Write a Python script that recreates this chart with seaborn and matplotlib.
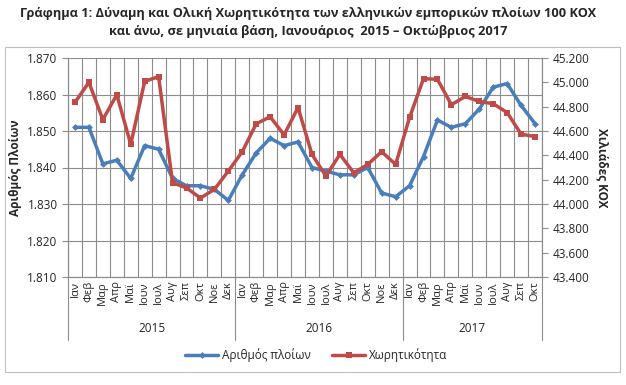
import matplotlib
matplotlib.use("Agg")
import matplotlib.pyplot as plt
import matplotlib.ticker as mticker
import matplotlib.transforms as mtransforms
from matplotlib.patches import Rectangle
import pandas as pd
import seaborn as sns

# Monthly data, Jan 2015 - Oct 2017
months = ['Ιαν', 'Φεβ', 'Μαρ', 'Απρ', 'Μαϊ', 'Ιουν', 'Ιουλ', 'Αυγ', 'Σεπ', 'Οκτ', 'Νοε', 'Δεκ']
years = ['2015', '2016', '2017']
month_labels = months * 2 + months[:10]

# number of ships (100 GT and over)
ships = [1851, 1851, 1841, 1842, 1837, 1846, 1845, 1837, 1835, 1835, 1834, 1831,
         1838, 1844, 1848, 1846, 1847, 1840, 1839, 1838, 1838, 1840, 1833, 1832,
         1835, 1843, 1853, 1851, 1852, 1856, 1862, 1863, 1857, 1852]
# capacity, thousand GT
capacity = [44835, 45000, 44694, 44898, 44491, 45008, 45047, 44175, 44132, 44049, 44120, 44271,
            44430, 44659, 44717, 44568, 44793, 44408, 44229, 44408, 44256, 44325, 44430, 44325,
            44711, 45030, 45025, 44816, 44884, 44843, 44824, 44752, 44574, 44554]

df = pd.DataFrame({'idx': range(len(ships)), 'ships': ships, 'capacity': capacity})

sns.set_style("white")
plt.rcParams['font.family'] = ['Open Sans', 'DejaVu Sans']

blue = '#4A7EBB'
red = '#BE4B48'
grid_c = '#8c8c8c'

fig = plt.figure(figsize=(6.26, 3.85), dpi=100)
ax = fig.add_axes([68 / 626, 1 - 277 / 385, (542 - 68) / 626, (277 - 58) / 385])
ax2 = ax.twinx()

sns.lineplot(data=df, x='idx', y='ships', ax=ax, color=blue, marker='D', markersize=3.5,
             markeredgewidth=0, linewidth=2.5, label='Αριθμός πλοίων', legend=False)
sns.lineplot(data=df, x='idx', y='capacity', ax=ax2, color=red, marker='s', markersize=5,
             markeredgewidth=0, linewidth=2.5, label='Χωρητικότητα', legend=False)

n = len(ships)
for a in (ax, ax2):
    a.set_xlim(-0.5, n - 0.5)
ax.set_ylim(1810, 1870)
ax2.set_ylim(43400, 45200)
ax.set_yticks(range(1810, 1871, 10))
ax2.set_yticks(range(43400, 45201, 200))

fmt = mticker.FuncFormatter(lambda v, p: f"{v:,.0f}".replace(",", "."))
ax.yaxis.set_major_formatter(fmt)
ax2.yaxis.set_major_formatter(fmt)

# category axis: labels at centres, separator ticks at boundaries
ax.set_xticks(range(n))
ax.set_xticklabels(month_labels, rotation=90, fontsize=8)
ax.set_xticks([i - 0.5 for i in range(n + 1)], minor=True)
ax.tick_params(axis='x', which='major', length=0, pad=3)
ax.tick_params(axis='x', which='minor', length=31, width=0.8, color=grid_c, direction='out')
ax.tick_params(axis='y', length=4, width=0.8, color=grid_c, direction='out', labelsize=8.5)
ax2.tick_params(axis='y', length=4, width=0.8, color=grid_c, direction='out', labelsize=8.5)

ax.grid(True, which='minor', axis='x', color=grid_c, linewidth=0.8)
ax.grid(True, which='major', axis='y', color=grid_c, linewidth=0.8)
ax.set_axisbelow(True)

for a in (ax, ax2):
    for s in a.spines.values():
        s.set_color(grid_c)
        s.set_linewidth(0.8)
    a.spines['top'].set_visible(False)

ax.set_xlabel('')
ax.set_ylabel('Αριθμός Πλοίων', fontsize=8.5, fontweight='bold', labelpad=4)
ax2.set_ylabel('Χιλιάδες ΚΟΧ', fontsize=8.5, fontweight='bold', rotation=-90, labelpad=14)

# year level of the category axis
trans = mtransforms.blended_transform_factory(ax.transData, ax.transAxes)
bounds = [-0.5, 11.5, 23.5, n - 0.5]
for b in bounds:
    ax.plot([b, b], [0, -0.288], transform=trans, color=grid_c, linewidth=0.8, clip_on=False)
for k, yr in enumerate(years):
    ax.text((bounds[k] + bounds[k + 1]) / 2, -0.233, yr, transform=trans,
            ha='center', va='center', fontsize=8.5)

# legend
h1, l1 = ax.get_legend_handles_labels()
h2, l2 = ax2.get_legend_handles_labels()
fig.legend(h1 + h2, l1 + l2, loc='center', bbox_to_anchor=(0.505, 1 - 355 / 385), ncol=2,
           frameon=False, fontsize=8.5, handlelength=2.8, handletextpad=0.3, columnspacing=1.8)

# title
fig.text(0.492, 1 - 14 / 385, 'Γράφημα 1: Δύναμη και Ολική Χωρητικότητα των ελληνικών εμπορικών πλοίων 100 ΚΟΧ',
         ha='center', va='center', fontsize=9.2, fontweight='bold')
fig.text(0.492, 1 - 32 / 385, 'και άνω, σε μηνιαία βάση, Ιανουάριος  2015 – Οκτώβριος 2017',
         ha='center', va='center', fontsize=9.2, fontweight='bold')

# chart frame
fig.patches.append(Rectangle((5 / 626, 1 - 372 / 385), 615 / 626, 325 / 385,
                             transform=fig.transFigure, fill=False, edgecolor='#bfbfbf', linewidth=0.8))

fig.savefig('out.png', dpi=100)
